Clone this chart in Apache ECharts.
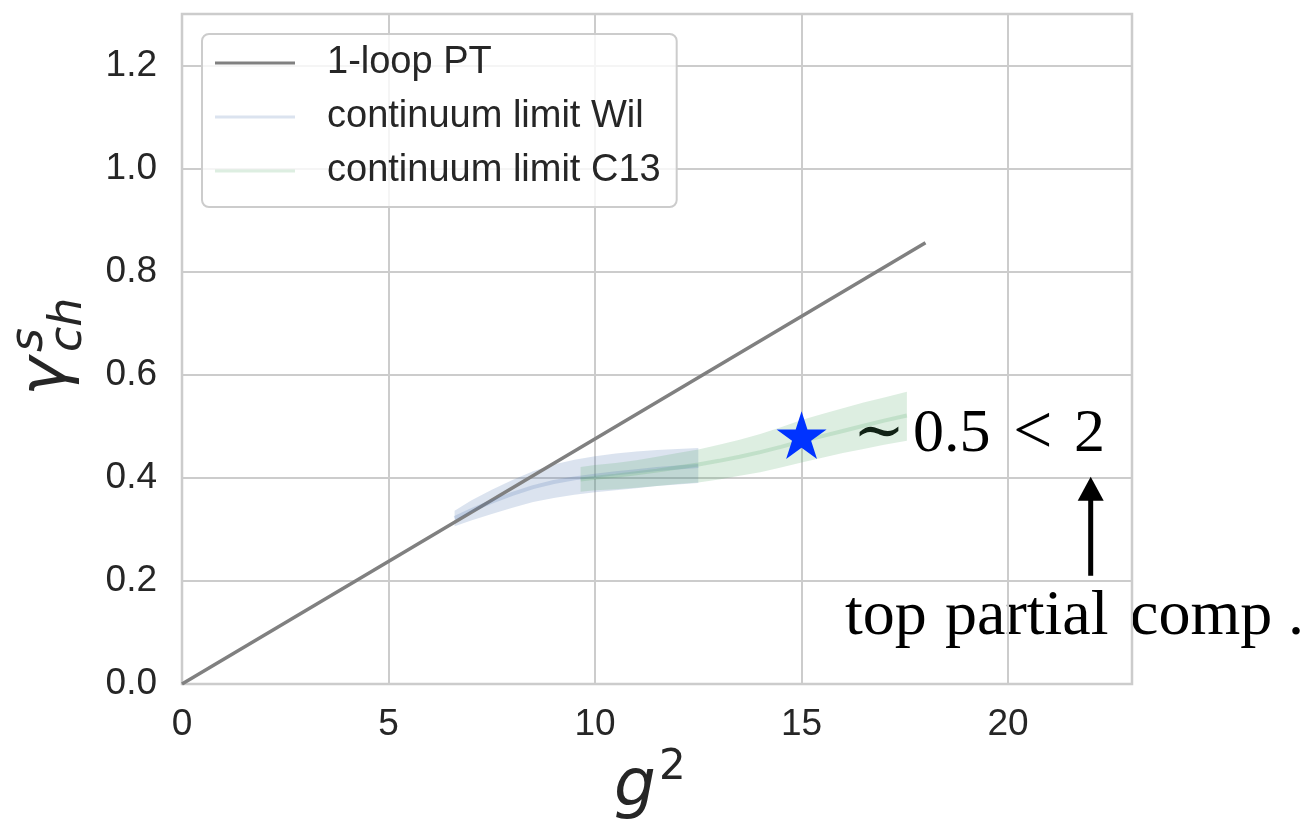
<!DOCTYPE html>
<html><head><meta charset="utf-8">
<script src="https://cdn.jsdelivr.net/npm/echarts@6/dist/echarts.min.js"></script>
<style>html,body{margin:0;padding:0;background:#fff}#c{width:1313px;height:822px}</style>
</head><body><div id="c"></div>
<script>
// ---- data ----
const xTicks = [0, 5, 10, 15, 20];
const yTicks = [0.0, 0.2, 0.4, 0.6, 0.8, 1.0, 1.2];
const ptX = [0, 18];
const ptY = [0, 0.856];
const wilX   = [6.6, 7, 7.5, 8, 8.5, 9, 9.5, 10, 10.5, 11, 11.5, 12, 12.5];
const wilMid = [0.322, 0.337, 0.354, 0.369, 0.382, 0.392, 0.399, 0.404, 0.409, 0.413, 0.417, 0.420, 0.423];
const wilHi  = [0.336, 0.356, 0.377, 0.396, 0.413, 0.426, 0.435, 0.442, 0.447, 0.451, 0.454, 0.456, 0.458];
const wilLo  = [0.306, 0.317, 0.330, 0.342, 0.353, 0.361, 0.367, 0.372, 0.376, 0.380, 0.384, 0.387, 0.390];
const c13X   = [9.65, 10, 10.5, 11, 11.5, 12, 12.5, 13, 13.5, 14, 14.5, 15, 15.5, 16, 16.5, 17, 17.55];
const c13Mid = [0.397, 0.400, 0.404, 0.409, 0.414, 0.420, 0.426, 0.433, 0.441, 0.450, 0.460, 0.471, 0.481, 0.491, 0.501, 0.511, 0.521];
const c13Hi  = [0.421, 0.425, 0.429, 0.434, 0.441, 0.448, 0.455, 0.464, 0.474, 0.485, 0.498, 0.512, 0.524, 0.535, 0.546, 0.556, 0.567];
const c13Lo  = [0.373, 0.376, 0.378, 0.381, 0.384, 0.388, 0.391, 0.397, 0.404, 0.411, 0.420, 0.430, 0.439, 0.448, 0.456, 0.464, 0.472];
const starX = [15];
const starY = [0.478];
const arrowTail = [22, 0.21];
const arrowTip = [22, 0.402];
const seriesNames = ['1-loop PT', 'continuum limit Wil', 'continuum limit C13'];
const noteUpper = ['\u223C', '0.5', '<', '2'];
const noteLower = ['top', 'partial', 'comp', '.'];

// ---- styles / layout ----
const SANS = "'Liberation Sans', Arial, sans-serif";
const SERIF = "'Liberation Serif', 'Times New Roman', 'DejaVu Serif', serif";
const BLUE = [76, 114, 176], GREEN = [85, 168, 104];
const rgba = (c, a) => `rgba(${c[0]},${c[1]},${c[2]},${a})`;
const zip = (a, b) => a.map((v, i) => [v, b[i]]);
const upperX = [853, 913, 1013, 1074];
const upperSize = [62, 62, 70, 62];
const lowerX = [845, 945, 1130, 1288];

function starPath() {
  let d = '';
  for (let k = 0; k < 10; k++) {
    const r = k % 2 === 0 ? 1 : 0.382;
    const a = -Math.PI / 2 + k * Math.PI / 5;
    d += (k ? 'L' : 'M') + (r * Math.cos(a)).toFixed(4) + ' ' + (r * Math.sin(a)).toFixed(4);
  }
  return 'path://' + d + 'Z';
}

function band(xs, lo, hi, col) {
  return {
    type: 'custom', silent: true, z: 2,
    data: xs.map((x, i) => [x, lo[i], hi[i]]),
    encode: { x: 0, y: [1, 2] },
    renderItem(params, api) {
      if (params.dataIndex !== 0) return null;
      const pts = [];
      for (let i = 0; i < xs.length; i++) pts.push(api.coord([xs[i], hi[i]]));
      for (let i = xs.length - 1; i >= 0; i--) pts.push(api.coord([xs[i], lo[i]]));
      return { type: 'polygon', shape: { points: pts }, style: { fill: rgba(col, 0.2) } };
    }
  };
}

const txt = (text, x, y, font, fill) => ({ type: 'text', x, y,
  style: { text, font, fill: fill || '#000', verticalAlign: 'middle', align: 'left' } });

const graphics = [];
noteUpper.forEach((t, i) => graphics.push(txt(t, upperX[i], 434.5, `${upperSize[i]}px ${SERIF}`)));
noteLower.forEach((t, i) => graphics.push(txt(t, lowerX[i], 617, `64px ${SERIF}`)));
// x axis title g^2
graphics.push(txt('g', 614, 788, "italic 66px 'DejaVu Sans'", '#262626'));
graphics.push(txt('2', 659, 768, "42px 'DejaVu Sans'", '#262626'));
// y axis title gamma^s_ch (rotated)
graphics.push({ type: 'group', x: 70, y: 396, rotation: Math.PI / 2, children: [
  txt('\u03B3', 0, -22, "italic 66px 'DejaVu Sans'", '#262626'),
  txt('ch', 44, -1, "italic 46px 'DejaVu Sans'", '#262626'),
  txt('s', 44, -40, "italic 46px 'DejaVu Sans'", '#262626')
]});

const chart = echarts.init(document.getElementById('c'));
chart.setOption({
  animation: false,
  backgroundColor: '#ffffff',
  grid: { left: 182, top: 14, right: 181, bottom: 138, containLabel: false, outerBoundsMode: 'none',
          show: true, borderColor: '#cccccc', borderWidth: 2.5, backgroundColor: 'transparent' },
  xAxis: {
    type: 'value', min: 0, max: 23, interval: 5,
    axisLine: { show: false }, axisTick: { show: false },
    splitLine: { show: true, lineStyle: { color: '#cccccc', width: 2 } },
    axisLabel: { fontSize: 37, fontFamily: SANS, color: '#262626', margin: 22,
                 formatter: v => xTicks.includes(v) ? String(v) : '' }
  },
  yAxis: {
    type: 'value', min: 0, max: 1.3, interval: 0.2,
    axisLine: { show: false }, axisTick: { show: false },
    splitLine: { show: true, lineStyle: { color: '#cccccc', width: 2 } },
    axisLabel: { fontSize: 37, fontFamily: SANS, color: '#262626', margin: 25,
                 formatter: v => yTicks.some(t => Math.abs(t - v) < 1e-6) ? v.toFixed(1) : '' }
  },
  legend: {
    left: 202, top: 34, orient: 'vertical',
    backgroundColor: 'rgba(255,255,255,0.8)', borderColor: '#cccccc', borderWidth: 2, borderRadius: 7,
    padding: [9, 16, 16, 13], itemGap: 14, itemWidth: 80, itemHeight: 3,
    textStyle: { fontSize: 38, fontFamily: SANS, color: '#262626', lineHeight: 40, padding: [0, 0, 0, 27] },
    data: [
      { name: seriesNames[0], icon: 'rect', itemStyle: { color: '#808080' } },
      { name: seriesNames[1], icon: 'rect', itemStyle: { color: rgba(BLUE, 0.2) } },
      { name: seriesNames[2], icon: 'rect', itemStyle: { color: rgba(GREEN, 0.2) } }
    ]
  },
  series: [
    { name: seriesNames[0], type: 'line', data: zip(ptX, ptY), symbol: 'none', z: 3,
      lineStyle: { color: '#808080', width: 3.5 }, itemStyle: { color: '#808080' } },
    band(wilX, wilLo, wilHi, BLUE),
    { name: seriesNames[1], type: 'line', data: zip(wilX, wilMid), symbol: 'none', z: 4,
      lineStyle: { color: rgba(BLUE, 0.2), width: 4 }, itemStyle: { color: rgba(BLUE, 0.2) } },
    band(c13X, c13Lo, c13Hi, GREEN),
    { name: seriesNames[2], type: 'line', data: zip(c13X, c13Mid), symbol: 'none', z: 4,
      lineStyle: { color: rgba(GREEN, 0.2), width: 4 }, itemStyle: { color: rgba(GREEN, 0.2) } },
    { type: 'scatter', data: zip(starX, starY), symbol: starPath(), symbolSize: [50, 47.6],
      symbolOffset: [0, -2.5], z: 6, silent: true, itemStyle: { color: '#0033ff', opacity: 1 } },
    { type: 'custom', silent: true, z: 7, data: [[arrowTail[0], arrowTail[1], arrowTip[0], arrowTip[1]]],
      encode: { x: [0, 2], y: [1, 3] },
      renderItem(params, api) {
        const t = api.coord([api.value(0), api.value(1)]);
        const h = api.coord([api.value(2), api.value(3)]);
        const headL = 24, headW = 13;
        return { type: 'group', children: [
          { type: 'line', shape: { x1: t[0], y1: t[1], x2: h[0], y2: h[1] + headL - 1 },
            style: { stroke: '#000', lineWidth: 5 } },
          { type: 'polygon', shape: { points: [[h[0], h[1]], [h[0] - headW, h[1] + headL], [h[0] + headW, h[1] + headL]] },
            style: { fill: '#000' } }
        ]};
      }
    }
  ],
  graphic: graphics
});
</script></body></html>
